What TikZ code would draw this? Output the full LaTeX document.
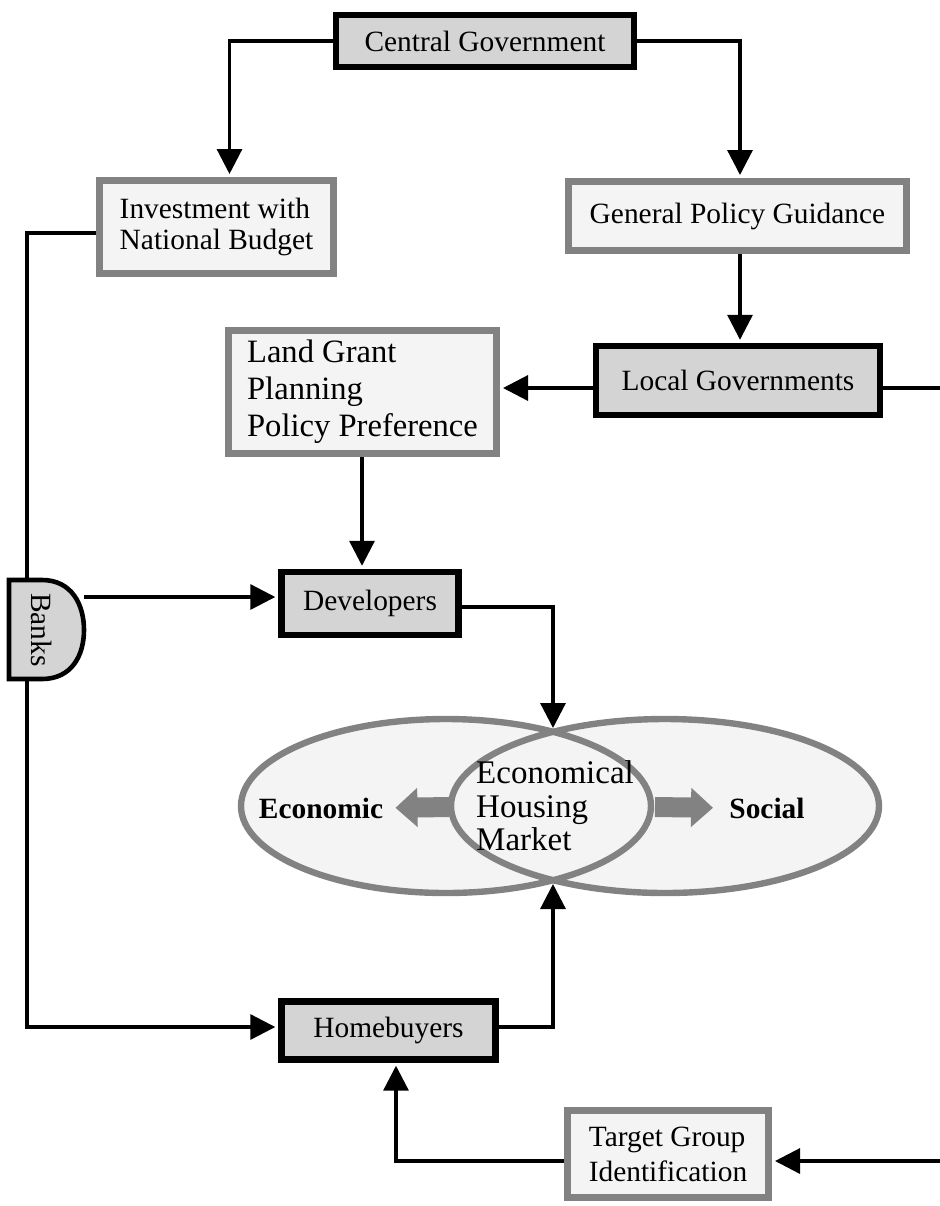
\documentclass[tikz,border=0pt]{standalone}
\usepackage{fontspec}
\setmainfont{Liberation Serif}
\usetikzlibrary{arrows.meta,shapes.geometric}
\definecolor{boxgray}{HTML}{D4D4D4}
\definecolor{rimgray}{HTML}{828282}
\definecolor{paper}{HTML}{F4F4F4}
\begin{document}
\begin{tikzpicture}[x=0.5pt,y=-0.5pt,
 every node/.style={font=\fontsize{14.7}{17}\selectfont, inner sep=0pt},
 blackbox/.style={draw=black, line width=3.2pt, fill=boxgray, rectangle},
 graybox/.style={draw=rimgray, line width=3.5pt, fill=paper, rectangle, align=left},
 conn/.style={line width=1.6pt},
 arr/.style={conn, -{Triangle[length=12.5pt,width=12.5pt]}, shorten >=1.5pt},
 bigarr/.style={draw=rimgray, line width=10pt, -{Triangle[length=11pt,width=19pt]}}
]
\useasboundingbox (0,0) rectangle (940,1206);

% ellipses
\fill[paper] (446,806) ellipse [x radius=205, y radius=87];
\fill[paper] (665,806) ellipse [x radius=214, y radius=87];
\draw[rimgray, line width=3.2pt] (446,806) ellipse [x radius=205, y radius=87];
\draw[rimgray, line width=3.2pt] (665,806) ellipse [x radius=214, y radius=87];
\coordinate (etop) at (553,731);
\coordinate (ebot) at (553,881);
\coordinate (lensL) at (449,807);
\coordinate (lensR) at (655,807);

\node[align=left, font=\fontsize{16.5}{16.8}\selectfont] (ehm) at (555,806) {Economical\\Housing\\Market};
\node[font=\fontsize{14.7}{17}\selectfont\bfseries] (eco) at (321,808) {Economic};
\node[font=\fontsize{14.7}{17}\selectfont\bfseries] (soc) at (767,808) {Social};
\draw[bigarr, shorten >=6pt] (lensL) -- (eco.east);
\draw[bigarr, shorten >=8pt] (lensR) -- (soc.west);

% boxes
\node[blackbox, minimum width=149pt, minimum height=26pt] (cg) at (485,41) {Central Government};
\node[graybox, minimum width=117pt, minimum height=46.5pt, font=\fontsize{14.7}{15.5}\selectfont] (inv) at (216.5,227) {Investment with\\National Budget};
\node[graybox, minimum width=169pt, minimum height=34.5pt] (gpg) at (737.5,216) {General Policy Guidance};
\node[blackbox, minimum width=142pt, minimum height=34.5pt] (lg) at (738,380.5) {Local Governments};
\node[graybox, minimum width=134pt, minimum height=61.5pt, font=\fontsize{16.3}{18.5}\selectfont] (lgp) at (362.5,392) {Land Grant\\Planning\\Policy Preference};
\node[blackbox, minimum width=88.5pt, minimum height=31.5pt] (dev) at (370,603.5) {Developers};
\node[blackbox, minimum width=107pt, minimum height=29pt] (hb) at (388.5,1030.5) {Homebuyers};
\node[graybox, minimum width=100.5pt, minimum height=43.5pt, font=\fontsize{14.7}{17.5}\selectfont] (tg) at (668,1154) {Target Group\\Identification};

% banks
\path[draw=black, line width=2.3pt, fill=boxgray] (9,580) -- (42,580) .. controls (72,580) and (84,605) .. (84,630) .. controls (84,655) and (72,679) .. (42,679) -- (9,679) -- cycle;
\node[rotate=-90] (banks) at (42,630) {Banks};
\coordinate (bt) at (27,580);
\coordinate (bb) at (27,679);
\coordinate (br) at (84,597);
\coordinate (rA) at (940,388);
\coordinate (rB) at (940,1161);

% connectors
\draw[arr] (cg.west) -| ([xshift=6.5pt]inv.north);
\draw[arr] (cg.east) -| ([xshift=1.25pt]gpg.north);
\draw[arr] ([xshift=1.25pt]gpg.south) -- ([xshift=1.25pt]gpg.south |- lg.north);
\draw[arr] (lg.west |- 0,388) -- (lgp.east |- 0,388);
\draw[conn] (lg.east |- 0,388) -- (rA);
\draw[arr] (lgp.south -| 362,0) -- (dev.north -| 362,0);
\draw[arr] (dev.east |- 0,607) -| (etop);
\draw[conn] (inv.west |- 0,233) -| (bt);
\draw[arr] (br) -- (dev.west |- br);
\draw[arr] (bb) |- (hb.west |- 0,1027);
\draw[arr] (hb.east |- 0,1027) -| (ebot);
\draw[arr] (rB) -- (tg.east |- rB);
\draw[arr] (tg.west |- 0,1161) -| (hb.south -| 396,0);
\end{tikzpicture}
\end{document}
